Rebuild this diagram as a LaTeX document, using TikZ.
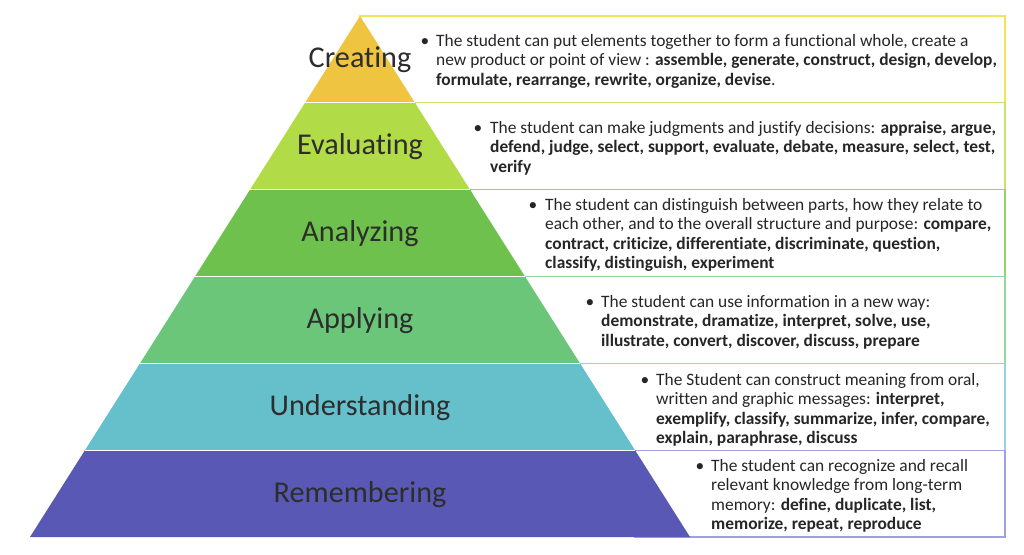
\documentclass[tikz,border=0pt]{standalone}
\usepackage{fontspec}
\setmainfont[Ligatures=NoCommon]{Carlito}
\definecolor{cCre}{RGB}{238,196,64}
\definecolor{cEva}{RGB}{178,219,72}
\definecolor{cAna}{RGB}{110,193,76}
\definecolor{cApp}{RGB}{108,198,122}
\definecolor{cUnd}{RGB}{102,192,204}
\definecolor{cRem}{RGB}{89,89,181}
\definecolor{bCre}{RGB}{244,226,90}
\definecolor{bEva}{RGB}{196,230,110}
\definecolor{bAna}{RGB}{150,210,110}
\definecolor{bApp}{RGB}{150,215,160}
\definecolor{bUnd}{RGB}{150,210,222}
\definecolor{bRem}{RGB}{160,160,222}
\definecolor{txt}{RGB}{38,38,38}
\definecolor{lbl}{RGB}{45,45,45}
\newcommand{\lines}[1]{\begin{tabular}[t]{@{}l@{}}#1\end{tabular}}
\begin{document}
\begin{tikzpicture}[x=1pt,y=-1pt,
  desc/.style={anchor=base west, inner sep=0pt, font=\fontsize{17.4}{19.5}\selectfont, text=txt},
  bul/.style={anchor=base, inner sep=0pt, font=\fontsize{17.4}{19.5}\selectfont, text=txt},
  lab/.style={anchor=center, inner sep=0pt, font=\fontsize{30.2}{36}\selectfont, text=lbl},
  box/.style={line width=1.3pt, fill=white}]
\useasboundingbox[fill=white] (0,0) rectangle (1024,554);
% boxes
\foreach \i/\b in {0/bCre,1/bEva,2/bAna,3/bApp,4/bUnd,5/bRem}{
  \pgfmathsetmacro\yt{16+86.8333*\i}
  \pgfmathsetmacro\yb{16+86.8333*(\i+1)}
  \pgfmathsetmacro\ht{55*\i}
  \draw[box, draw=\b] (360+\ht,\yt) rectangle (1005,\yb);
}
% pyramid layers
\foreach \i/\f in {0/cCre,1/cEva,2/cAna,3/cApp,4/cUnd,5/cRem}{
  \pgfmathsetmacro\yt{16+86.8333*\i}
  \pgfmathsetmacro\yb{16+86.8333*(\i+1)}
  \pgfmathsetmacro\ht{55*\i}
  \pgfmathsetmacro\hb{55*(\i+1)}
  \fill[\f] (360-\ht,\yt) -- (360+\ht,\yt) -- (360+\hb,\yb) -- (360-\hb,\yb) -- cycle;
}
\foreach \i in {1,...,5}{
  \pgfmathsetmacro\yt{16+86.8333*\i}
  \pgfmathsetmacro\ht{55*\i}
  \draw[white, line width=0.8pt] (360-\ht,\yt) -- (360+\ht,\yt);
}
% labels
\node[lab] (lCre) at (360,60) {Creating};
\node[lab] (lEva) at (360,147) {Evaluating};
\node[lab] (lAna) at (360,234) {Analyzing};
\node[lab] (lApp) at (360,321) {Applying};
\node[lab] (lUnd) at (360,407.5) {Understanding};
\node[lab] (lRem) at (360,494.5) {Remembering};
% descriptions
\node[bul] (bCre) at (425,46) {•};
\node[desc] (dCre) at (436,46) {\lines{The student can put elements together to form a functional whole, create a\\
new product or point of view : \textbf{assemble, generate, construct, design, develop,}\\
\textbf{formulate, rearrange, rewrite, organize, devise}.}};
\node[bul] (bEva) at (478,133) {•};
\node[desc] (dEva) at (490,133) {\lines{The student can make judgments and justify decisions: \textbf{appraise, argue,}\\
\textbf{defend, judge, select, support, evaluate, debate, measure, select, test,}\\
\textbf{verify}}};
\node[bul] (bAna) at (533,210) {•};
\node[desc] (dAna) at (545,210) {\lines{The student can distinguish between parts, how they relate to\\
each other, and to the overall structure and purpose: \textbf{compare,}\\
\textbf{contract, criticize, differentiate, discriminate, question,}\\
\textbf{classify, distinguish, experiment}}};
\node[bul] (bApp) at (590,307) {•};
\node[desc] (dApp) at (601,307) {\lines{The student can use information in a new way:\\
\textbf{demonstrate, dramatize, interpret, solve, use,}\\
\textbf{illustrate, convert, discover, discuss, prepare}}};
\node[bul] (bUnd) at (645,385) {•};
\node[desc] (dUnd) at (656,385) {\lines{The Student can construct meaning from oral,\\
written and graphic messages: \textbf{interpret,}\\
\textbf{exemplify, classify, summarize, infer, compare,}\\
\textbf{explain, paraphrase, discuss}}};
\node[bul] (bRem) at (700,471) {•};
\node[desc] (dRem) at (711,471) {\lines{The student can recognize and recall\\
relevant knowledge from long-term\\
memory: \textbf{define, duplicate, list,}\\
\textbf{memorize, repeat, reproduce}}};
\end{tikzpicture}
\end{document}
